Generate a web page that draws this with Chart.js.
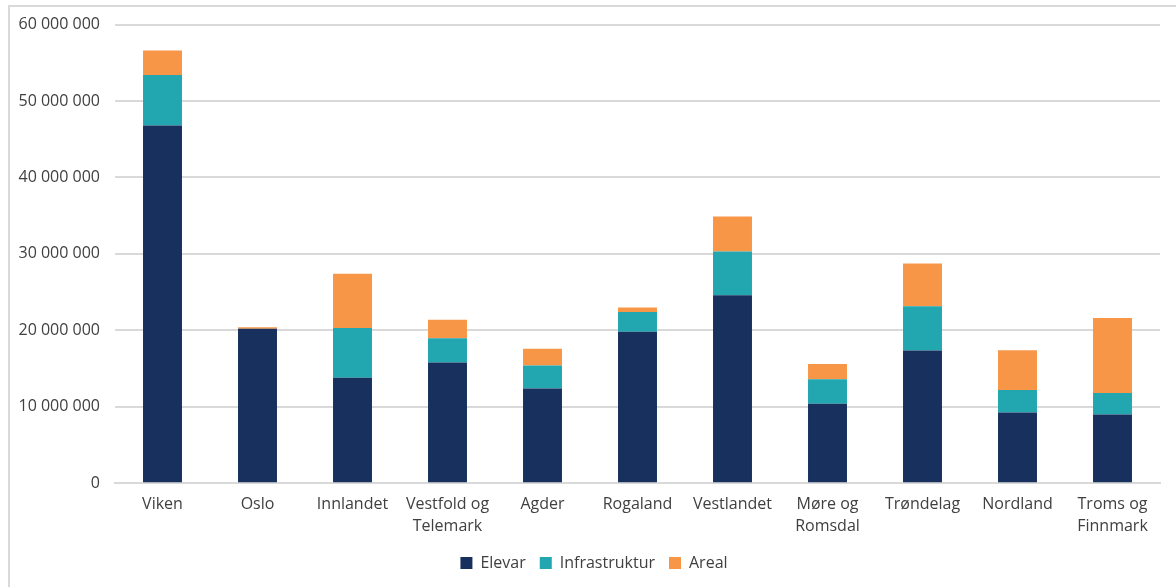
<!DOCTYPE html>
<html>
<head>
<meta charset="utf-8">
<script src="https://cdn.jsdelivr.net/npm/chart.js@4"></script>
<style>
  html, body { margin: 0; padding: 0; background: #ffffff; }
  #frame { position: absolute; left: 8px; top: 5px; width: 1200px; height: 600px; border-top: 2px solid #d9d9d9; border-left: 2px solid #d9d9d9; }
  #wrap { position: absolute; left: 0; top: 0; width: 1176px; height: 587px; }
</style>
</head>
<body>
<div id="frame"></div>
<div id="wrap"><canvas id="c" width="1176" height="587"></canvas></div>
<script>
const categories = [
  "Viken", "Oslo", "Innlandet", ["Vestfold og", "Telemark"], "Agder", "Rogaland",
  "Vestlandet", ["Møre og", "Romsdal"], "Trøndelag", "Nordland", ["Troms og", "Finnmark"]
];
const elevar =        [46800000, 20200000, 13800000, 15800000, 12400000, 19800000, 24600000, 10400000, 17350000, 9250000, 9000000];
const infrastruktur = [ 6600000,        0,  6500000,  3150000,  3000000,  2600000,  5700000,  3200000,  5800000, 2950000, 2800000];
const areal =         [ 3200000,   200000,  7100000,  2450000,  2200000,   600000,  4600000,  2000000,  5600000, 5200000, 9800000];
const yTicksMax = 60000000;
const yStep = 10000000;

const fmt = v => String(v).replace(/\B(?=(\d{3})+(?!\d))/g, " ");
const fontFamily = "'Open Sans', sans-serif";
const textColor = "#404040";

const shiftLegend = {
  id: "shiftLegend",
  afterLayout(chart) {
    if (chart.legend) { chart.legend.left += 10; chart.legend.right += 10; }
  }
};

new Chart(document.getElementById("c"), {
  type: "bar",
  data: {
    labels: categories,
    datasets: [
      { label: "Elevar", data: elevar, backgroundColor: "#17305d" },
      { label: "Infrastruktur", data: infrastruktur, backgroundColor: "#22a6b0" },
      { label: "Areal", data: areal, backgroundColor: "#f79646" }
    ]
  },
  plugins: [shiftLegend],
  options: {
    responsive: false,
    animation: false,
    layout: { padding: { left: 8, right: 16, top: 14, bottom: 6 } },
    datasets: { bar: { categoryPercentage: 1.0, barPercentage: 0.41 } },
    plugins: {
      legend: {
        position: "bottom",
        labels: {
          boxWidth: 12, boxHeight: 12, padding: 14,
          color: textColor, font: { family: fontFamily, size: 16 }
        }
      },
      tooltip: { enabled: false }
    },
    scales: {
      x: {
        stacked: true,
        afterFit: s => { s.height -= 7; },
        grid: { display: false, drawTicks: false },
        border: { display: true, color: "#d9d9d9", width: 2 },
        ticks: { color: textColor, font: { family: fontFamily, size: 16, lineHeight: 1.4 }, padding: 10, maxRotation: 0, autoSkip: false }
      },
      y: {
        stacked: true,
        min: 0, max: yTicksMax,
        afterFit: s => { s.width = 107; },
        grid: { color: "#d9d9d9", lineWidth: 2, drawTicks: false },
        border: { display: false },
        ticks: { stepSize: yStep, color: textColor, font: { family: fontFamily, size: 16 }, padding: 15, callback: v => fmt(v) }
      }
    }
  }
});
</script>
</body>
</html>
